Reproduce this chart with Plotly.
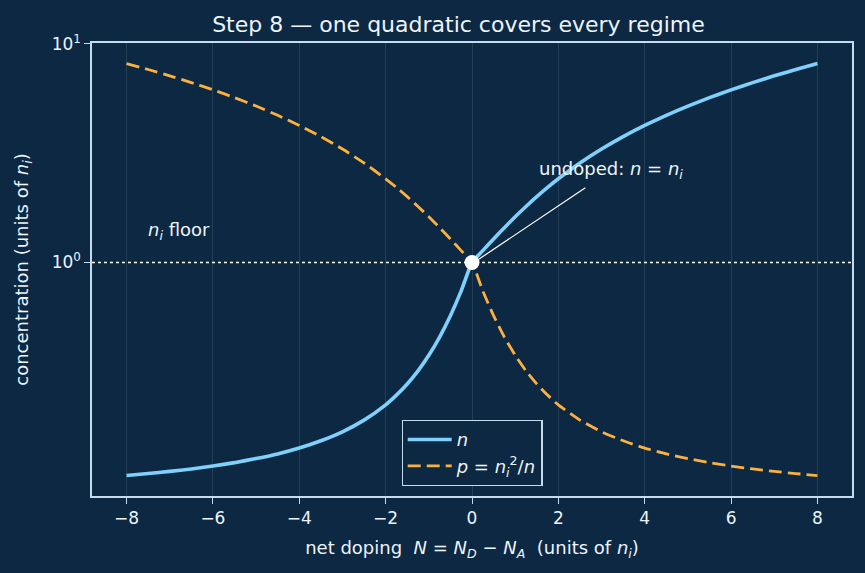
import math
import plotly.graph_objects as go

# ---- data ----
doping = [-8, -7.5, -7, -6.5, -6, -5.5, -5, -4.5, -4, -3.5, -3, -2.5, -2, -1.75, -1.5, -1.25,
          -1, -0.75, -0.5, -0.25, 0, 0.25, 0.5, 0.75, 1, 1.25, 1.5, 1.75, 2, 2.5, 3, 3.5,
          4, 4.5, 5, 5.5, 6, 6.5, 7, 7.5, 8]
n_vals = [0.123, 0.131, 0.140, 0.150, 0.162, 0.176, 0.193, 0.212, 0.236, 0.266, 0.303, 0.351,
          0.414, 0.454, 0.500, 0.554, 0.618, 0.693, 0.781, 0.883, 1.000, 1.133, 1.281, 1.443,
          1.618, 1.804, 2.000, 2.204, 2.414, 2.851, 3.303, 3.766, 4.236, 4.712, 5.193, 5.676,
          6.162, 6.650, 7.140, 7.631, 8.123]
p_vals = [8.123, 7.631, 7.140, 6.650, 6.162, 5.676, 5.193, 4.712, 4.236, 3.766, 3.303, 2.851,
          2.414, 2.204, 2.000, 1.804, 1.618, 1.443, 1.281, 1.133, 1.000, 0.883, 0.781, 0.693,
          0.618, 0.554, 0.500, 0.454, 0.414, 0.351, 0.303, 0.266, 0.236, 0.212, 0.193, 0.176,
          0.162, 0.150, 0.140, 0.131, 0.123]
x_ticks = [-8, -6, -4, -2, 0, 2, 4, 6, 8]
y_tick_vals = [1, 10]
y_tick_text = ["10<sup>0</sup>", "10<sup>1</sup>"]
ni_floor = 1.0
undoped_point = (0, 1.0)

# symlog scale (linthresh = 1, base 10, linscale = 1)
LIN = 1.0 / (1.0 - 1.0 / 10.0)


def symlog(v):
    if abs(v) <= 1:
        return v * LIN
    return math.copysign(LIN + math.log10(abs(v)), v)


BG = "#0c2842"
FG = "#eef4fb"
AX = "#c6dbef"
BLUE = "#7fd0fb"
ORANGE = "#fbb040"
FONT = "DejaVu Sans"
FS = 17
FL = 18

fig = go.Figure()
fig.add_trace(go.Scatter(
    x=doping, y=[symlog(v) for v in n_vals], mode="lines",
    line=dict(color=BLUE, width=3.6, shape="spline", smoothing=0.5),
    name="<i>n</i>"))
fig.add_trace(go.Scatter(
    x=doping, y=[symlog(v) for v in p_vals], mode="lines",
    line=dict(color=ORANGE, width=2.8, dash="13px,6px", shape="spline", smoothing=0.5),
    name="<i>p</i> = <i>n</i><sub><i>i</i></sub><sup>2</sup>/<i>n</i>"))
fig.add_trace(go.Scatter(
    x=[undoped_point[0]], y=[symlog(undoped_point[1])], mode="markers",
    marker=dict(color="white", size=15), showlegend=False))

fig.add_shape(type="line", xref="paper", x0=0, x1=1, yref="y",
              y0=symlog(ni_floor), y1=symlog(ni_floor),
              line=dict(color="white", width=1.3, dash="dot"), layer="below")

# arrow for the undoped annotation
fig.add_annotation(x=undoped_point[0] + 0.12, y=symlog(undoped_point[1]) + 0.01,
                   ax=2.66, ay=symlog(2.22), axref="x", ayref="y", xref="x", yref="y",
                   text="", showarrow=True, arrowhead=0, arrowwidth=1.2, arrowcolor="white")
fig.add_annotation(x=1.5, y=symlog(2.65), xref="x", yref="y", xanchor="left", yanchor="middle",
                   text="undoped: <i>n</i> = <i>n</i><sub><i>i</i></sub>", showarrow=False,
                   font=dict(family=FONT, size=FL, color=FG))
fig.add_annotation(x=-7.55, y=symlog(1.39), xref="x", yref="y", xanchor="left", yanchor="middle",
                   text="<i>n</i><sub><i>i</i></sub> floor", showarrow=False,
                   font=dict(family=FONT, size=FL, color=FG))

fig.update_layout(
    width=865, height=573,
    paper_bgcolor=BG, plot_bgcolor=BG,
    margin=dict(l=92, r=13, t=43, b=77),
    font=dict(family=FONT, size=FS, color=FG),
    title=dict(text="Step 8 — one quadratic covers every regime", xref="container",
               x=0.53, xanchor="center",
               y=0.958, yanchor="middle", font=dict(family=FONT, size=22, color=FG)),
    legend=dict(x=0.5, y=0.022, xanchor="center", yanchor="bottom",
                bgcolor=BG, bordercolor=AX, borderwidth=1.2, itemwidth=44,
                font=dict(family=FONT, size=FL, color=FG), tracegroupgap=6),
    showlegend=True,
)
fig.update_xaxes(
    range=[-8.8, 8.8], tickvals=x_ticks, ticks="outside", ticklen=6, tickwidth=1.3,
    tickcolor=AX, showline=True, linecolor=AX, linewidth=1.5, mirror=True,
    showgrid=True, gridcolor="rgba(200,220,240,0.13)", gridwidth=1, zeroline=False,
    tickfont=dict(family=FONT, size=FS, color=FG),
    title=dict(text="net doping  <i>N</i> = <i>N</i><sub><i>D</i></sub> − <i>N</i><sub><i>A</i></sub>  (units of <i>n</i><sub><i>i</i></sub>)",
               font=dict(family=FONT, size=FL, color=FG), standoff=14))
fig.update_yaxes(
    range=[0.043, 2.115], tickvals=[symlog(v) for v in y_tick_vals], ticktext=y_tick_text,
    ticks="outside", ticklen=6, tickwidth=1.3, tickcolor=AX,
    showline=True, linecolor=AX, linewidth=1.5, mirror=True,
    showgrid=False, zeroline=False,
    tickfont=dict(family=FONT, size=FS, color=FG),
    title=dict(text="concentration (units of <i>n</i><sub><i>i</i></sub>)",
               font=dict(family=FONT, size=FL, color=FG), standoff=18))

fig.write_html("out.html")
